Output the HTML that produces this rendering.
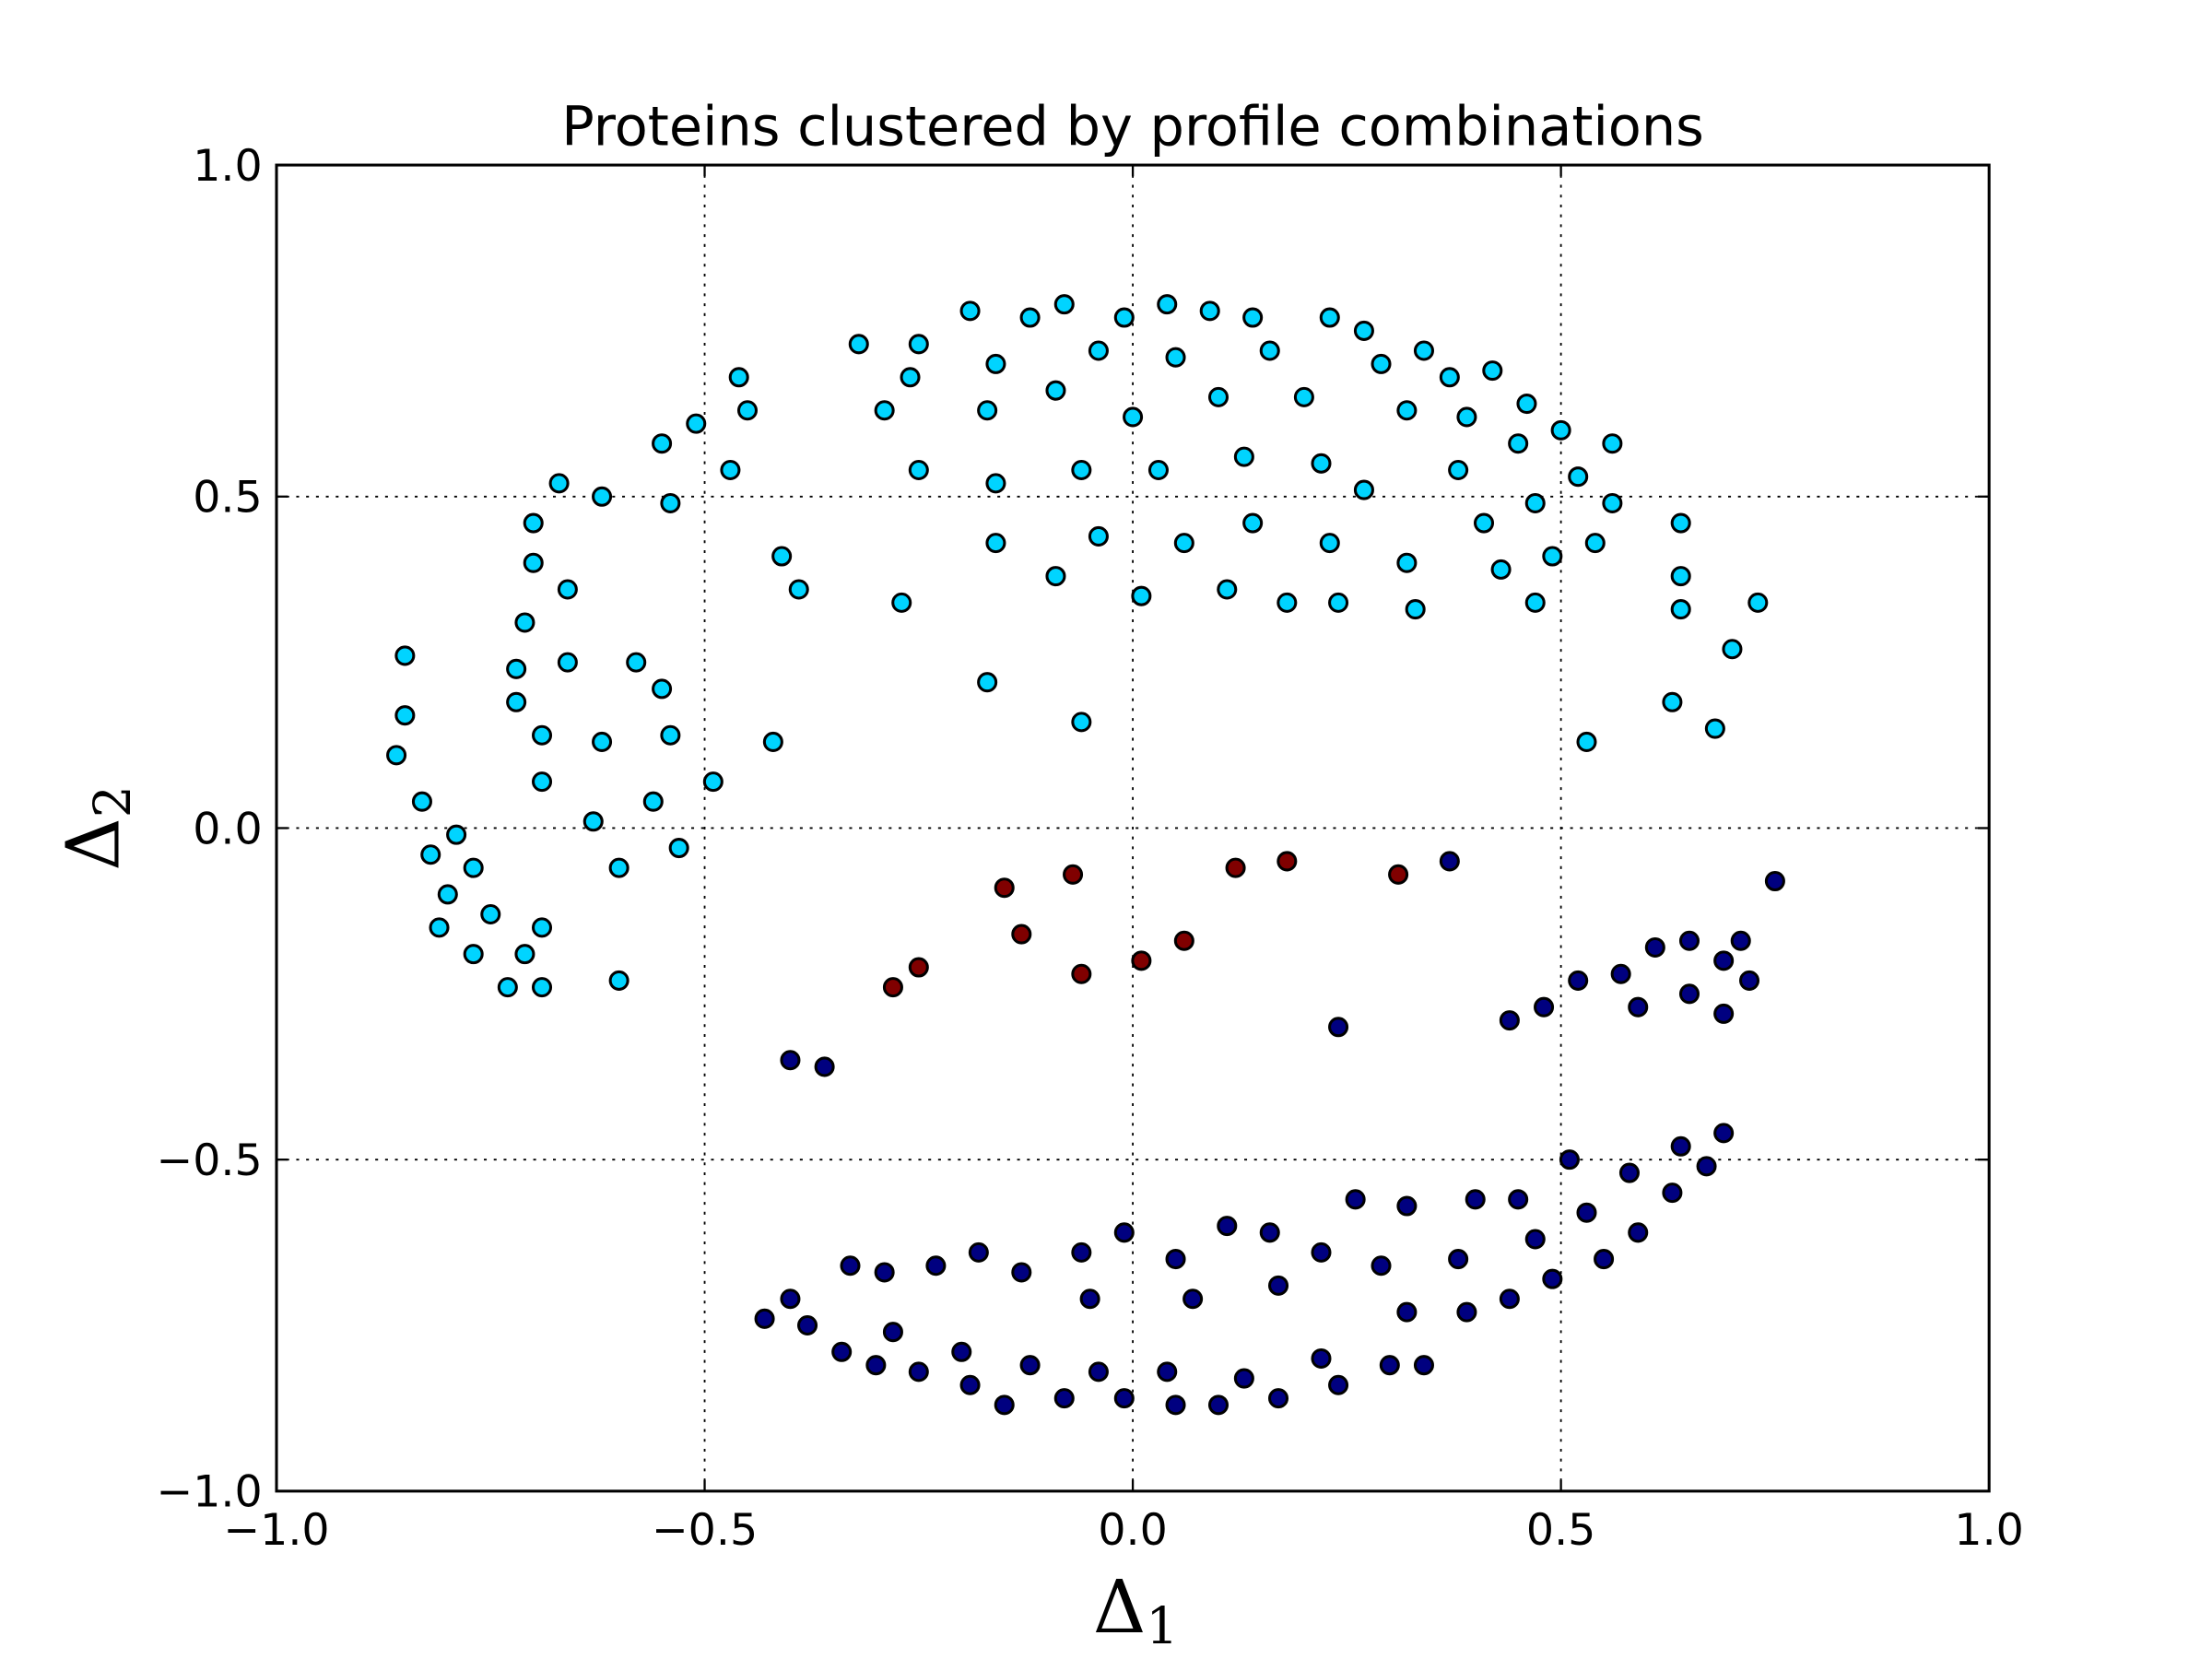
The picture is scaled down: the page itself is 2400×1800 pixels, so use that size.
<!DOCTYPE html>
<html><head><meta charset="utf-8"><style>
html,body{margin:0;padding:0;background:#fff;}
svg{display:block;}
text{font-family:"DejaVu Sans","Liberation Sans",sans-serif;fill:#000;}
</style></head><body>
<svg id="chart" width="2400" height="1800" viewBox="0 0 1568 1176" xmlns="http://www.w3.org/2000/svg">
<rect width="1568" height="1176" fill="#fff"/>
<text x="803" y="103" font-size="38.5" text-anchor="middle">Proteins clustered by profile combinations</text>
<g id="grid"></g>
<g id="points"></g>
<rect x="196" y="117" width="1214" height="940" fill="none" stroke="#000" stroke-width="2"/>
<g id="ticks"></g>
<text x="805" y="1157" font-size="52" text-anchor="middle" style="font-family:'DejaVu Serif','Liberation Serif',serif">Δ<tspan font-size="36" dy="8">1</tspan></text>
<text transform="translate(84,587) rotate(-90)" font-size="52" text-anchor="middle" style="font-family:'DejaVu Serif','Liberation Serif',serif">Δ<tspan font-size="36" dy="8">2</tspan></text>
</svg>
<script>
const xTicks = [-1.0, -0.5, 0.0, 0.5, 1.0];
const yTicks = [-1.0, -0.5, 0.0, 0.5, 1.0];
const xTickLabels = ["\u22121.0", "\u22120.5", "0.0", "0.5", "1.0"];
const yTickLabels = ["\u22121.0", "\u22120.5", "0.0", "0.5", "1.0"];
const cyanPoints = [
[-0.85,0.26],[-0.85,0.17],[-0.86,0.11],[-0.83,0.04],[-0.82,-0.04],[-0.79,-0.01],[-0.80,-0.10],[-0.81,-0.15],
[-0.77,-0.06],[-0.75,-0.13],[-0.77,-0.19],[-0.73,-0.24],[-0.71,-0.19],[-0.69,-0.24],[-0.69,-0.15],[-0.72,0.24],
[-0.72,0.19],[-0.71,0.31],[-0.70,0.40],[-0.70,0.46],[-0.67,0.52],[-0.66,0.36],[-0.66,0.25],[-0.69,0.14],
[-0.69,0.07],[-0.63,0.01],[-0.62,0.50],[-0.62,0.13],[-0.58,0.25],[-0.60,-0.06],[-0.60,-0.23],[-0.56,0.04],
[-0.55,0.21],[-0.54,0.14],[-0.53,-0.03],[-0.55,0.58],[-0.54,0.49],[-0.51,0.61],[-0.49,0.07],[-0.47,0.54],
[-0.46,0.68],[-0.45,0.63],[-0.41,0.41],[-0.42,0.13],[-0.39,0.36],[-0.32,0.73],[-0.29,0.63],[-0.27,0.34],
[-0.26,0.68],[-0.25,0.73],[-0.25,0.54],[-0.19,0.78],[-0.17,0.63],[-0.16,0.70],[-0.16,0.52],[-0.16,0.43],
[-0.17,0.22],[-0.12,0.77],[-0.09,0.66],[-0.08,0.79],[-0.06,0.54],[-0.09,0.38],[-0.04,0.72],[-0.04,0.44],
[-0.06,0.16],[-0.01,0.77],[0.00,0.62],[0.01,0.35],[0.03,0.54],[0.04,0.79],[0.05,0.71],[0.06,0.43],
[0.09,0.78],[0.10,0.65],[0.11,0.36],[0.13,0.56],[0.14,0.46],[0.14,0.77],[0.16,0.72],[0.18,0.34],
[0.20,0.65],[0.22,0.55],[0.23,0.43],[0.23,0.77],[0.24,0.34],[0.27,0.75],[0.27,0.51],[0.29,0.70],
[0.32,0.63],[0.32,0.40],[0.33,0.33],[0.34,0.72],[0.37,0.68],[0.38,0.54],[0.39,0.62],[0.41,0.46],
[0.42,0.69],[0.43,0.39],[0.45,0.58],[0.46,0.64],[0.47,0.34],[0.47,0.49],[0.49,0.41],[0.50,0.60],
[0.52,0.53],[0.54,0.43],[0.56,0.58],[0.56,0.49],[0.64,0.46],[0.64,0.38],[0.64,0.33],[0.73,0.34],
[0.70,0.27],[0.63,0.19],[0.68,0.15],[0.53,0.13]
];
const redPoints = [
[-0.15,-0.09],[-0.07,-0.07],[-0.13,-0.16],[-0.28,-0.24],[-0.25,-0.21],[-0.06,-0.22],[0.01,-0.20],[0.06,-0.17],
[0.12,-0.06],[0.18,-0.05],[0.31,-0.07]
];
const navyPoints = [
[0.37,-0.05],[0.75,-0.08],[0.24,-0.30],[0.44,-0.29],[0.48,-0.27],[0.52,-0.23],[0.57,-0.22],[0.59,-0.27],
[0.61,-0.18],[0.65,-0.17],[0.65,-0.25],[0.69,-0.20],[0.71,-0.17],[0.72,-0.23],[0.69,-0.28],[-0.40,-0.35],
[-0.36,-0.36],[-0.43,-0.74],[-0.40,-0.71],[-0.38,-0.75],[-0.34,-0.79],[-0.30,-0.81],[-0.33,-0.66],[-0.29,-0.67],
[-0.28,-0.76],[-0.25,-0.82],[-0.23,-0.66],[-0.19,-0.84],[-0.20,-0.79],[-0.18,-0.64],[-0.15,-0.87],[-0.13,-0.67],
[-0.12,-0.81],[-0.08,-0.86],[-0.06,-0.64],[-0.05,-0.71],[-0.04,-0.82],[-0.01,-0.86],[-0.01,-0.61],[0.04,-0.82],
[0.05,-0.65],[0.05,-0.87],[0.07,-0.71],[0.10,-0.87],[0.11,-0.60],[0.13,-0.83],[0.16,-0.61],[0.17,-0.69],
[0.17,-0.86],[0.22,-0.80],[0.22,-0.64],[0.24,-0.84],[0.26,-0.56],[0.29,-0.66],[0.30,-0.81],[0.32,-0.73],
[0.32,-0.57],[0.34,-0.81],[0.38,-0.65],[0.39,-0.73],[0.40,-0.56],[0.44,-0.71],[0.45,-0.56],[0.47,-0.62],
[0.49,-0.68],[0.51,-0.50],[0.53,-0.58],[0.55,-0.65],[0.58,-0.52],[0.59,-0.61],[0.63,-0.55],[0.64,-0.48],
[0.67,-0.51],[0.69,-0.46]
];

const NS = "http://www.w3.org/2000/svg";
const X0 = 196, X1 = 1410, Y0 = 1057, Y1 = 117;
function sx(v){ return X0 + (v + 1) / 2 * (X1 - X0); }
function sy(v){ return Y0 - (v + 1) / 2 * (Y0 - Y1); }
function mk(tag, attrs){ const e = document.createElementNS(NS, tag); for (const k in attrs) e.setAttribute(k, attrs[k]); return e; }

const grid = document.getElementById('grid');
const ticks = document.getElementById('ticks');
xTicks.forEach((t, i) => {
  const x = sx(t);
  if (i > 0 && i < xTicks.length - 1) {
    const g = mk('line', {x1:x, x2:x, y1:Y1, y2:Y0, stroke:'#000', 'stroke-width':1.2, 'stroke-dasharray':'2,5'});
    
    
    grid.appendChild(g);
  }
  const a = mk('line', {x1:x, x2:x, y1:Y0, y2:Y0-8, stroke:'#000', 'stroke-width':1.5});
  
  
  ticks.appendChild(a);
  const b = mk('line', {x1:x, x2:x, y1:Y1, y2:Y1+8, stroke:'#000', 'stroke-width':1.5});
  
  
  ticks.appendChild(b);
  const l = mk('text', {x:x, y:1095, 'font-size':31, 'text-anchor':'middle'});
  l.textContent = xTickLabels[i];
  
  
  ticks.appendChild(l);
});
yTicks.forEach((t, i) => {
  const y = sy(t);
  if (i > 0 && i < yTicks.length - 1) {
    const g = mk('line', {x1:X0, x2:X1, y1:y, y2:y, stroke:'#000', 'stroke-width':1.2, 'stroke-dasharray':'2,5'});
    
    
    grid.appendChild(g);
  }
  const a = mk('line', {x1:X0, x2:X0+8, y1:y, y2:y, stroke:'#000', 'stroke-width':1.5});
  
  
  ticks.appendChild(a);
  const b = mk('line', {x1:X1, x2:X1-8, y1:y, y2:y, stroke:'#000', 'stroke-width':1.5});
  
  
  ticks.appendChild(b);
  const l = mk('text', {x:186, y:y+11, 'font-size':31, 'text-anchor':'end'});
  l.textContent = yTickLabels[i];
  
  
  ticks.appendChild(l);
});

const pts = document.getElementById('points');
function drawSeries(arr, color, name){
  arr.forEach(p => {
    const c = mk('circle', {cx:sx(p[0]), cy:sy(p[1]), r:6.2, fill:color, stroke:'#000', 'stroke-width':2});
    
    
    pts.appendChild(c);
  });
}
drawSeries(cyanPoints, '#00d4ff', 'cyan-cluster-point');
drawSeries(redPoints, '#800000', 'red-cluster-point');
drawSeries(navyPoints, '#000080', 'navy-cluster-point');
</script>
</body></html>
